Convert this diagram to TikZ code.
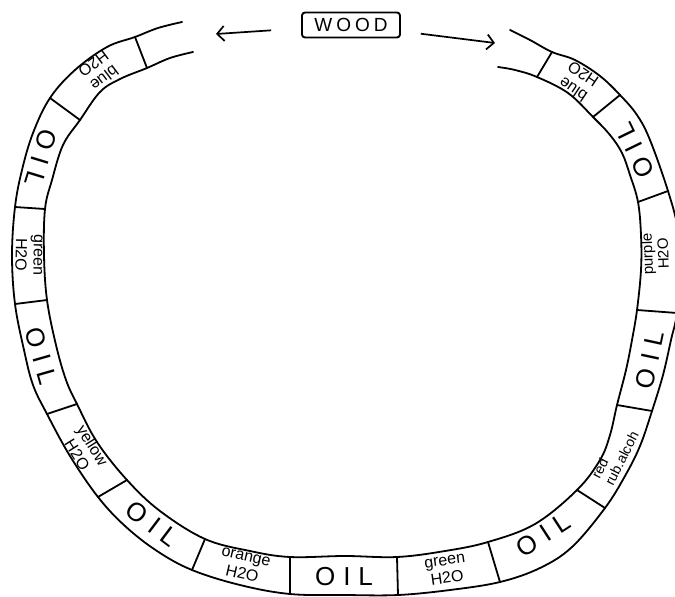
\documentclass[tikz,border=0pt]{standalone}
\usepackage{fontspec}
\setmainfont{Liberation Sans}
\usetikzlibrary{arrows.meta}

\tikzset{
  ring/.style={line width=1.8pt, line join=round, line cap=round},
  wall/.style={line width=1.8pt, line cap=round},
  oiltag/.style={font=\fontsize{26}{26}\selectfont, inner sep=0pt},
  h2otag/.style={font=\fontsize{16}{18}\selectfont, align=center, inner sep=0pt},
  flow/.style={-{Straight Barb[length=7pt,width=15pt]}, line width=1.7pt},
}
\newcommand{\oil}{O\kern8pt I\kern8pt L}
\newcommand{\woodword}{W\kern4pt O\kern4pt O\kern4pt D}

\begin{document}
\begin{tikzpicture}[x=1pt, y=-1pt]
	\useasboundingbox (0,0) rectangle (675,597);
	\clip (0,0) rectangle (675,597);

	% Wood block
	\node[draw, rectangle, rounded corners=3pt, line width=1.9pt, minimum width=98pt, minimum height=25pt, inner sep=0pt, font=\fontsize{19}{19}\selectfont] (wood) at (351,25) {\woodword};
	\coordinate (leftend) at (216,34);
	\coordinate (rightend) at (495,43);
	\draw[flow, shorten <=30pt] (wood) -- (leftend);
	\draw[flow, shorten <=20pt] (wood) -- (rightend);

	% Outer wall of the ring
	\draw[ring] plot[smooth, tension=0.6] coordinates {
		(182,22) (158,28) (135,37) (107,47) (75,70) (50,98) (33,133) (22,170) (15,207)
		(12,255) (15,304) (24,350) (33,385) (47,414) (70,456) (98,497) (125,526)
		(157,551) (192,570) (240,585) (290,594) (345,595) (398,595) (450,590)
		(500,582) (540,568) (572,547) (605,508) (625,476) (640,446) (652,411)
		(663,375) (671,340) (677,313) (680,270) (678,230) (668,191) (650,140)
		(637,115) (620,95) (600,76) (575,60) (552,52) (530,40) (510,30)};

	% Inner wall of the ring
	\draw[ring] plot[smooth, tension=0.6] coordinates {
		(193,52) (170,58) (147,68) (120,79) (100,92) (80,120) (63,145) (52,180)
		(45,209) (44,255) (47,300) (56,345) (66,380) (77,404) (97,442) (127,480)
		(160,511) (205,539) (250,551) (290,557) (345,556) (397,557) (445,551)
		(488,542) (535,524) (577,490) (600,460) (610,435) (617,405) (626,370)
		(632,340) (637,310) (641,270) (641,235) (638,202) (630,175) (622,153)
		(610,135) (593,117) (568,93) (537,77) (515,70) (498,67)};

	% Dividers between the cells
	\draw[wall] (135,37) -- (147,68);
	\draw[wall] (50,98) -- (80,120);
	\draw[wall] (15,207) -- (45,209);
	\draw[wall] (15,304) -- (47,300);
	\draw[wall] (47,414) -- (77,404);
	\draw[wall] (98,497) -- (127,480);
	\draw[wall] (192,570) -- (205,539);
	\draw[wall] (290,594) -- (290,557);
	\draw[wall] (398,595) -- (397,557);
	\draw[wall] (500,582) -- (488,542);
	\draw[wall] (605,508) -- (577,490);
	\draw[wall] (652,411) -- (617,405);
	\draw[wall] (677,313) -- (637,310);
	\draw[wall] (668,191) -- (638,202);
	\draw[wall] (620,95) -- (593,117);
	\draw[wall] (552,52) -- (537,77);

	% Cells, left side
	\node[h2otag, rotate=-143] (blueleft) at (99,71) {blue\\H2O};
	\node[oiltag, rotate=-107] (oilone) at (41,158) {\oil};
	\node[h2otag, rotate=-91] (greenleft) at (29,255) {green\\H2O};
	\node[oiltag, rotate=-74] (oiltwo) at (41,356) {\oil};
	\node[h2otag, rotate=-58] (yellow) at (85,450) {yellow\\H2O};
	\node[oiltag, rotate=-37] (oilthree) at (152,524) {\oil};

	% Cells, bottom
	\node[h2otag, rotate=-13] (orange) at (244,566) {orange\\H2O};
	\node[oiltag] (oilfour) at (344,577) {\oil};
	\node[h2otag, rotate=8] (greenbottom) at (446,570) {green\\H2O};
	\node[oiltag, rotate=33] (oilfive) at (543,535) {\oil};

	% Cells, right side
	\node[h2otag, align=left, font=\fontsize{14}{15}\selectfont, rotate=63] (red) at (615,455) {red\\rub.alcoh};
	\node[oiltag, rotate=78] (oilsix) at (650,360) {\oil};
	\node[h2otag, font=\fontsize{15}{16}\selectfont, rotate=92] (purple) at (655,254) {purple\\H2O};
	\node[oiltag, rotate=116] (oilseven) at (635,150) {\oil};
	\node[h2otag, rotate=146] (blueright) at (578,82) {blue\\H2O};
\end{tikzpicture}
\end{document}
